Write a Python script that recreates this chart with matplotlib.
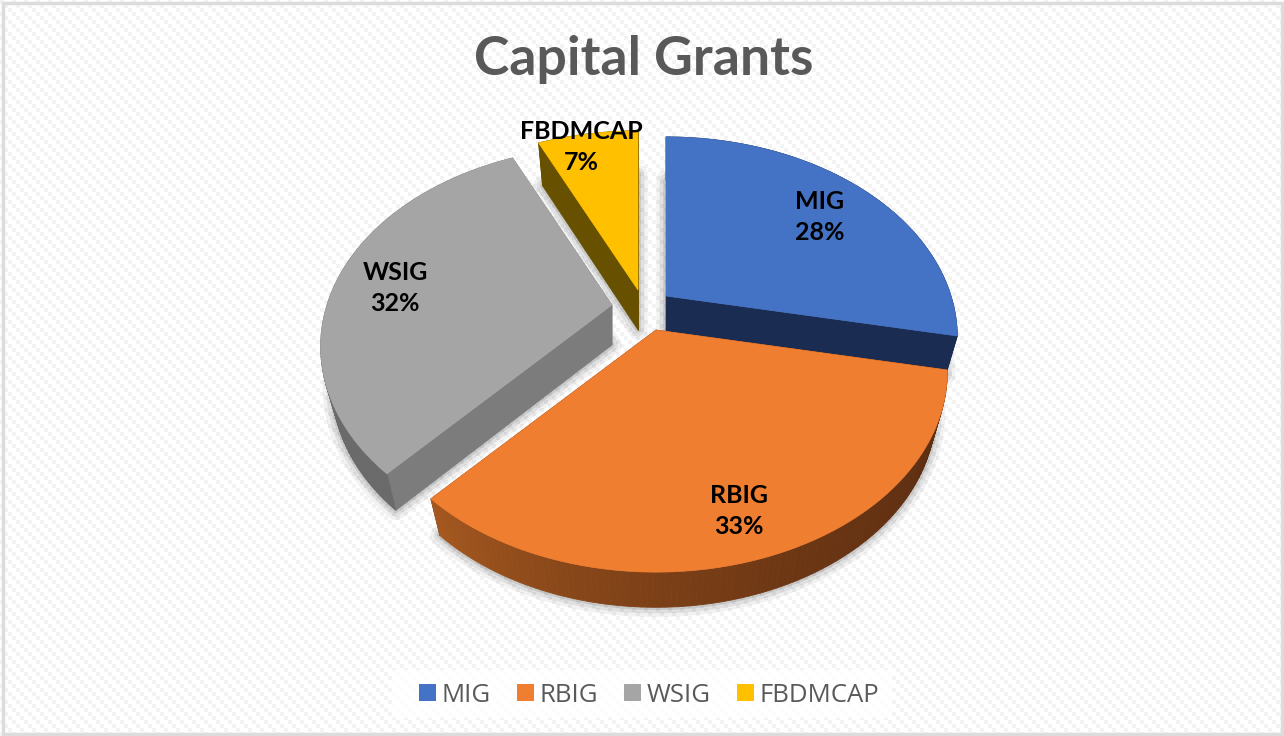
import numpy as np
import matplotlib
matplotlib.use('Agg')
from matplotlib import pyplot as plt
from matplotlib.patches import Patch, Rectangle

# Chart data
labels = ['MIG', 'RBIG', 'WSIG', 'FBDMCAP']
shares = [28.2, 33.45, 31.55, 6.8]

# Colours of the top, the flat cut faces and the rim (start and end of a gradient)
top_colors = ['#4472C4', '#F07E31', '#A5A5A5', '#FFC000']
cut_colors = ['#1A2C52', '#5E2E11', '#7C7C7C', '#675000']
rim_colors = [('#1A2C52', '#1A2C52'), ('#5E2E11', '#A5581F'), ('#6A6A6A', '#808080'), ('#675000', '#675000')]

# Exploded apex of every slice, in pixels
apex = [(666, 296), (656, 330), (612, 305), (638, 290)]
label_pos = [(820, 217), (739, 511), (395, 288), (581, 147)]

# Perspective of the tilted disc
R = 285
R_Y = 192
K = 0.207
DEPTH = 40
SHRINK_X = 0.96
SHRINK_Y = 0.98


def project(theta, radius=1.0):
    # theta runs clockwise from the back of the disc
    u = radius * np.sin(theta)
    v = -radius * np.cos(theta)
    w = 1 - K * v
    return R * u / w, R_Y * v / w


def lower(dx, dy):
    return dx * SHRINK_X, dy * SHRINK_Y + DEPTH


def mix(c1, c2, t):
    a = np.array(matplotlib.colors.to_rgb(c1))
    b = np.array(matplotlib.colors.to_rgb(c2))
    return a + (b - a) * t


fig = plt.figure(figsize=(12.84, 7.36), dpi=100)
ax = fig.add_axes([0, 0, 1, 1])

# Striped background
yy, xx = np.mgrid[0:736, 0:1284]
stripes = ((xx // 4 - yy // 4) % 3 == 0)
ax.imshow(np.where(stripes, 0.955, 1.0), cmap='gray', vmin=0, vmax=1, extent=(0, 1284, 736, 0),
          interpolation='nearest', aspect='auto', zorder=0)

edges = np.cumsum([0] + shares) / sum(shares) * 2 * np.pi
draw_order = [3, 0, 2, 1]

for z, i in enumerate(draw_order):
    cx, cy = apex[i]
    theta = np.linspace(edges[i], edges[i + 1], 120)
    dx, dy = project(theta)
    bx, by = lower(dx, dy)
    level = 3 + z

    # Soft shadow round the solid
    sx = np.r_[0, bx]
    sy = np.r_[DEPTH, by]
    for lw, alpha in [(14, 0.05), (9, 0.07), (4, 0.1)]:
        ax.fill(cx + sx, cy + sy, facecolor='none', edgecolor='black', lw=lw, alpha=alpha, zorder=2, joinstyle='round')

    # Flat cut faces
    for k in (0, -1):
        ax.fill([cx, cx + dx[k], cx + bx[k], cx],
                [cy, cy + dy[k], cy + by[k], cy + DEPTH],
                color=cut_colors[i], lw=0.5, zorder=level)

    # Rim, strip by strip for the gradient
    for j in range(len(theta) - 1):
        t = (j / (len(theta) - 2)) ** 2
        col = mix(rim_colors[i][0], rim_colors[i][1], t)
        ax.fill([cx + dx[j], cx + dx[j + 1], cx + bx[j + 1], cx + bx[j]],
                [cy + dy[j], cy + dy[j + 1], cy + by[j + 1], cy + by[j]],
                color=col, lw=0.6, zorder=level)

    # Top of the slice
    ax.fill(np.r_[cx, cx + dx], np.r_[cy, cy + dy], color=top_colors[i], lw=0.5, zorder=level)

for name, share, (lx, ly) in zip(labels, shares, label_pos):
    ax.text(lx, ly, f'{name}\n{share:.0f}%', ha='center', va='center', fontsize=18, fontweight='bold',
            family='Lato', color='black', linespacing=1.46, zorder=10)

ax.text(644, 60, 'Capital Grants', ha='center', va='center', fontsize=38.5, fontweight='bold',
        family='Lato', color='#595959', zorder=10)

# Legend on its pale box
ax.add_patch(Rectangle((392, 670), 500, 48, facecolor='white', edgecolor='none', alpha=0.8, zorder=9))
handles = [Patch(facecolor=c, edgecolor='none') for c in top_colors]
leg = ax.legend(handles, labels, loc='center', bbox_to_anchor=(649, 695), bbox_transform=ax.transData,
                ncol=4, frameon=False, prop={'family': 'Open Sans', 'size': 18.5}, labelcolor='#595959',
                handlelength=0.66, handleheight=0.66, handletextpad=0.2, columnspacing=1.04,
                borderpad=0, borderaxespad=0)
leg.set_zorder(10)

# Chart frame
ax.add_patch(Rectangle((2.5, 2.5), 1279, 731, fill=False, edgecolor='#DCDCDC', lw=2.5, zorder=11))

ax.set_xlim(0, 1284)
ax.set_ylim(736, 0)
ax.axis('off')

fig.savefig('out.png', dpi=100)
